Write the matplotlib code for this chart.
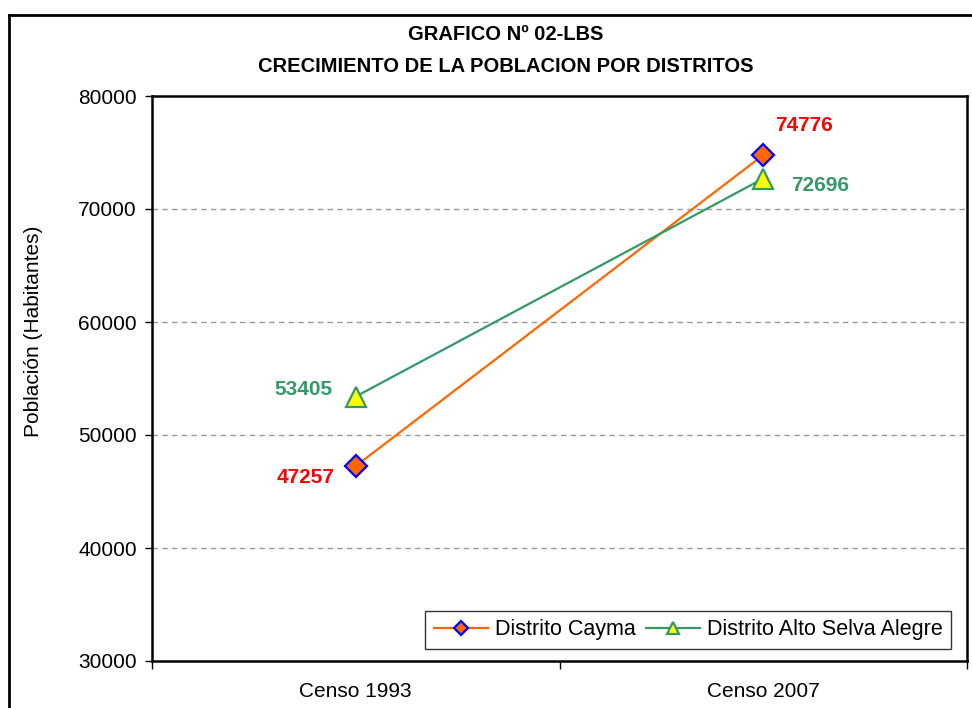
import matplotlib
matplotlib.use("Agg")
import matplotlib.pyplot as plt
from matplotlib.lines import Line2D

categories = ["Censo 1993", "Censo 2007"]
cayma = [47257, 74776]
asa = [53405, 72696]
series_names = ["Distrito Cayma", "Distrito Alto Selva Alegre"]
yticks = [30000, 40000, 50000, 60000, 70000, 80000]

plt.rcParams['font.family'] = ['Liberation Sans', 'DejaVu Sans']

W, H = 972, 708
fig = plt.figure(figsize=(W/100, H/100), dpi=100)
ax = fig.add_axes([152/W, 1-661/H, (967-152)/W, (661-96)/H])

x = list(range(len(categories)))
orange = '#FF6600'
green = '#339966'
ax.plot(x, cayma, color=orange, lw=1.6, marker='D', markersize=11,
        markerfacecolor=orange, markeredgecolor='#0000FF', markeredgewidth=1.6,
        label=series_names[0], zorder=3)
ax.plot(x, asa, color=green, lw=1.6, marker='^', markersize=14,
        markerfacecolor='#FFFF00', markeredgecolor=green, markeredgewidth=1.6,
        label=series_names[1], zorder=3)

ax.set_xlim(-0.5, 1.5)
ax.set_ylim(30000, 80000)
ax.set_yticks(yticks)
ax.set_yticklabels([str(v) for v in yticks], fontsize=15)
ax.set_xticks(x)
ax.set_xticklabels(categories, fontsize=15)
ax.tick_params(axis='x', which='major', length=0, pad=15)
ax.set_xticks([-0.5, 0.5, 1.5], minor=True)
ax.tick_params(axis='x', which='minor', length=6, width=1, direction='out')
ax.tick_params(axis='y', length=5, width=1, direction='out', pad=6)

for v in yticks[1:-1]:
    ax.axhline(v, color='#999999', lw=1, ls=(0, (4, 3)), zorder=1)

for s in ax.spines.values():
    s.set_linewidth(1.8)
    s.set_color('black')

ax.set_ylabel("Población (Habitantes)", fontsize=15, va='center')
ax.yaxis.set_label_coords((33-152)/815, (661-331)/565)

# data labels
lbl = dict(textcoords='offset points', ha='center', va='center', fontsize=15, fontweight='bold')
ax.annotate(str(cayma[0]), (x[0], cayma[0]), xytext=(-36, -8), color='#FF0000', **lbl)
ax.annotate(str(asa[0]), (x[0], asa[0]), xytext=(-38, 5), color=green, **lbl)
ax.annotate(str(cayma[1]), (x[1], cayma[1]), xytext=(29, 21), color='#FF0000', **lbl)
ax.annotate(str(asa[1]), (x[1], asa[1]), xytext=(41, -5), color=green, **lbl)

leg = ax.legend(loc='lower right', bbox_to_anchor=(1 - 16/815, 12/565), ncol=2,
                fontsize=15.5, frameon=True, fancybox=False, edgecolor='black',
                borderpad=0.4, handlelength=2.5, columnspacing=0.47, handletextpad=0.33,
                markerscale=0.65, borderaxespad=0)
leg.get_frame().set_linewidth(1.0)

fig.text(0.52, 1-35/H, "GRAFICO Nº 02-LBS", ha='center', va='center',
         fontsize=14.5, fontweight='bold')
fig.text(0.52, 1-66/H, "CRECIMIENTO DE LA POBLACION POR DISTRITOS", ha='center', va='center',
         fontsize=14.5, fontweight='bold')

# outer border
fig.add_artist(Line2D([8.5/W, 8.5/W], [0, 1-15/H], color='black', lw=2, transform=fig.transFigure))
fig.add_artist(Line2D([8.5/W, 1], [1-15/H, 1-15/H], color='black', lw=2, transform=fig.transFigure))

fig.savefig("out.png", dpi=100)
